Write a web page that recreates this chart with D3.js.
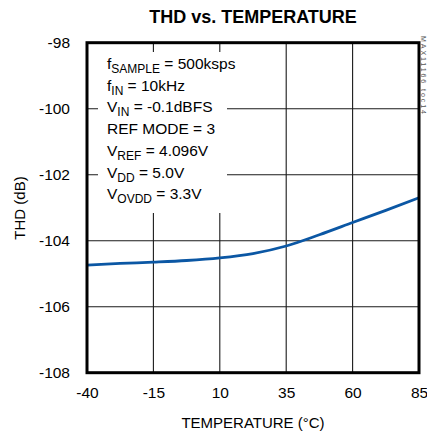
<!DOCTYPE html>
<html><head><meta charset="utf-8">
<script src="https://cdn.jsdelivr.net/npm/d3@7"></script>
<style>body{margin:0;background:#fff}svg{display:block;font-family:"Liberation Sans",Arial,sans-serif}</style>
</head><body><svg id="c" width="427" height="436"></svg>
<script>
const temps = [-40, -27.5, -15, -2.5, 10, 22.5, 35, 47.5, 60, 72.5, 85];
const thd = [-104.74, -104.69, -104.65, -104.60, -104.52, -104.39, -104.16, -103.82, -103.45, -103.08, -102.70];
const xTicks = [-40, -15, 10, 35, 60, 85];
const yTicks = [-108, -106, -104, -102, -100, -98];
const notes = [
  [["f",""],["SAMPLE","sub"],[" = 500ksps",""]],
  [["f",""],["IN","sub"],[" = 10kHz",""]],
  [["V",""],["IN","sub"],[" = -0.1dBFS",""]],
  [["REF MODE = 3",""]],
  [["V",""],["REF","sub"],[" = 4.096V",""]],
  [["V",""],["DD","sub"],[" = 5.0V",""]],
  [["V",""],["OVDD","sub"],[" = 3.3V",""]]
];

const svg = d3.select("#c");
const L = 87, R = 419, T = 42.7, B = 372.7;
const x = d3.scaleLinear().domain([-40, 85]).range([L, R]);
const y = d3.scaleLinear().domain([-108, -98]).range([B, T]);
const fmt = d => String(d);

// grid
const g = svg.append("g");
g.selectAll("line.v").data(xTicks.slice(1, -1)).join("line")
  .attr("x1", d => x(d)).attr("x2", d => x(d)).attr("y1", T).attr("y2", B)
  .attr("stroke", "#1a1a1a").attr("stroke-width", 1.1);
g.selectAll("line.h").data(yTicks.slice(1, -1)).join("line")
  .attr("y1", d => y(d)).attr("y2", d => y(d)).attr("x1", L).attr("x2", R)
  .attr("stroke", "#1a1a1a").attr("stroke-width", 1.1);

// note box background
svg.append("rect").attr("x", 98).attr("y", 52).attr("width", 129).attr("height", 161).attr("fill", "#fff");

// curve
svg.append("path").datum(temps.map((t, i) => [t, thd[i]]))
  .attr("fill", "none").attr("stroke", "#0b57a4").attr("stroke-width", 2.8)
  .attr("d", d3.line().x(d => x(d[0])).y(d => y(d[1])).curve(d3.curveMonotoneX));

// frame
svg.append("rect").attr("x", L).attr("y", T).attr("width", R - L).attr("height", B - T)
  .attr("fill", "none").attr("stroke", "#000").attr("stroke-width", 3);

// axes labels
const xa = d3.axisBottom(x).tickValues(xTicks).tickFormat(fmt).tickSize(0).tickPadding(14);
svg.append("g").attr("transform", `translate(0,${B})`).call(xa)
  .call(s => s.select(".domain").remove())
  .selectAll("text").attr("font-size", 15.5).attr("font-family", "Liberation Sans").attr("fill", "#000").attr("dy", "0.71em");
const ya = d3.axisLeft(y).tickValues(yTicks).tickFormat(fmt).tickSize(0).tickPadding(17);
svg.append("g").attr("transform", `translate(${L},0)`).call(ya)
  .call(s => s.select(".domain").remove())
  .selectAll("text").attr("font-size", 15.5).attr("font-family", "Liberation Sans").attr("fill", "#000");

svg.append("text").attr("x", 253).attr("y", 23).attr("text-anchor", "middle")
  .attr("font-size", 18).attr("font-weight", "bold").text("THD vs. TEMPERATURE");
svg.append("text").attr("x", 253).attr("y", 428).attr("text-anchor", "middle")
  .attr("font-size", 15).text("TEMPERATURE (°C)");
svg.append("text").attr("transform", "translate(25,208) rotate(-90)").attr("text-anchor", "middle")
  .attr("font-size", 15).text("THD (dB)");
svg.append("text").attr("transform", "translate(421,36) rotate(90)")
  .attr("font-size", 7).attr("fill", "#555").attr("textLength", 78).text("MAX11166 toc14");

// notes
const nt = svg.append("g");
notes.forEach((parts, i) => {
  const t = nt.append("text").attr("x", 107).attr("y", 73 + i * 21.7).attr("font-size", 15.5);
  parts.forEach(([s, k]) => {
    if (k === "sub") t.append("tspan").attr("font-size", 12).attr("dy", 4).text(s);
    else t.append("tspan").attr("dy", t.selectAll("tspan").size() ? -4 : 0).text(s);
  });
});
</script></body></html>
